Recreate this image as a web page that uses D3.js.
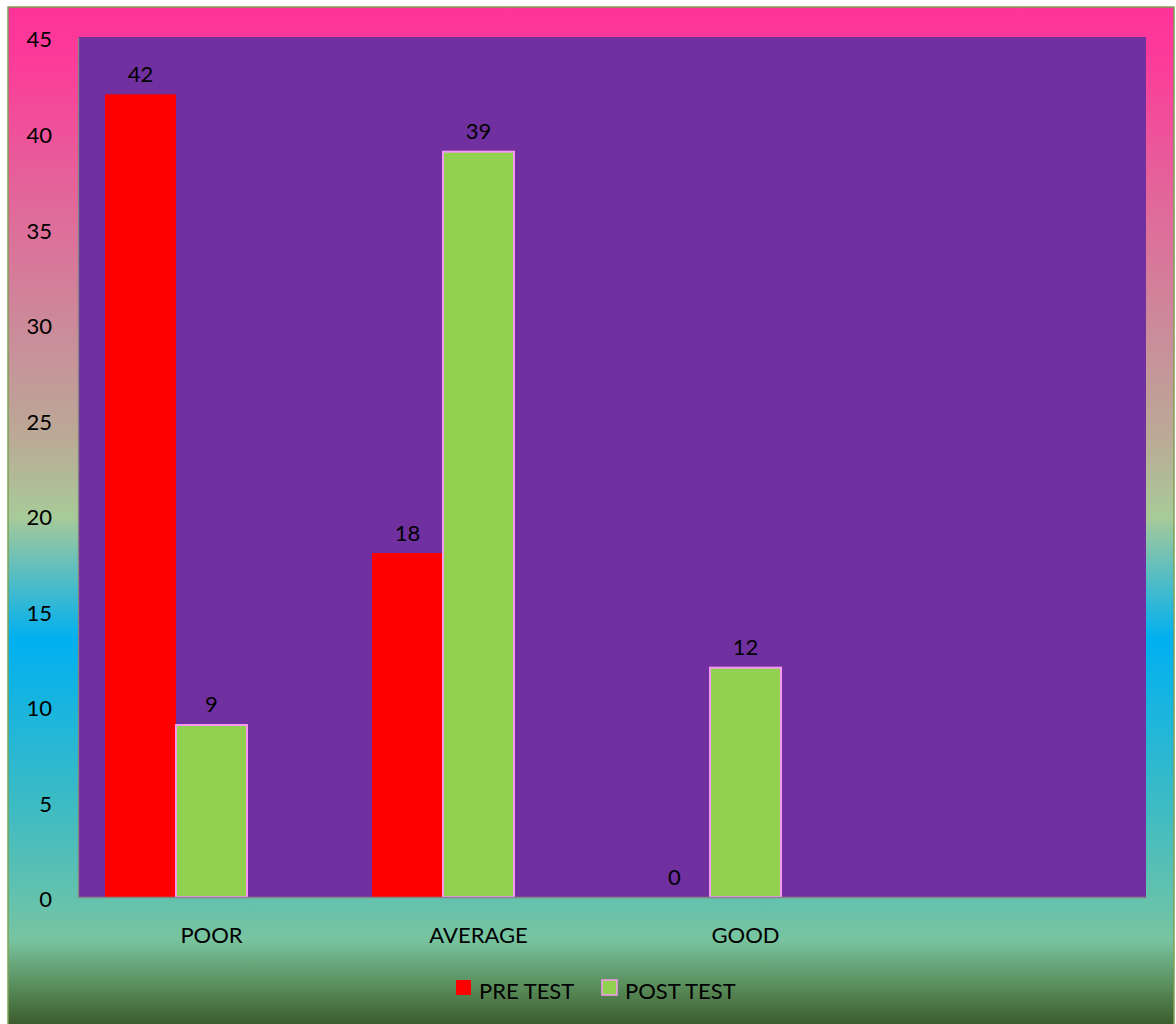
<!DOCTYPE html>
<html>
<head>
<meta charset="utf-8">
<script src="https://cdn.jsdelivr.net/npm/d3@7"></script>
<style>
  body { margin: 0; background: #fff; }
  text { font-family: Lato, "Open Sans", sans-serif; fill: #000; }
</style>
</head>
<body>
<div class="chart"></div>
<script>
// DATA ------------------------------------
const categories = ["POOR", "AVERAGE", "GOOD", ""];
const seriesNames = ["PRE TEST", "POST TEST", ""];
const preTest = [42, 18, 0, null];
const postTest = [9, 39, 12, null];
const yTicks = [0, 5, 10, 15, 20, 25, 30, 35, 40, 45];

// CHART INIT ------------------------------
const totalWidth = 1176;
const totalHeight = 1024;
const frame = { left: 8, top: 7, right: 1174, bottom: 1024 };
const plot = { left: 78, top: 37, right: 1146, bottom: 897 };
const fontSize = 22;

const svg = d3
  .select(".chart")
  .append("svg")
  .attr("width", totalWidth)
  .attr("height", totalHeight);

// background gradient of chart area
const defs = svg.append("defs");
const grad = defs
  .append("linearGradient")
  .attr("id", "bg")
  .attr("x1", 0).attr("y1", 0).attr("x2", 0).attr("y2", 1);

const stops = [
  [0, "#ff3399"],
  [0.05, "#fc3b9a"],
  [0.2, "#e06a9a"],
  [0.33, "#c98f9a"],
  [0.42, "#bba996"],
  [0.5, "#a8ca98"],
  [0.62, "#00b0f0"],
  [0.78, "#3cbbc4"],
  [0.88, "#66c2ac"],
  [0.915, "#78c4a0"],
  [0.96, "#5a8e5c"],
  [1, "#3b5a2a"],
];
grad
  .selectAll("stop")
  .data(stops)
  .enter()
  .append("stop")
  .attr("offset", (d) => d[0])
  .attr("stop-color", (d) => d[1]);

svg
  .append("rect")
  .attr("x", frame.left)
  .attr("y", frame.top)
  .attr("width", frame.right - frame.left)
  .attr("height", frame.bottom - frame.top + 2)
  .attr("fill", "url(#bg)")
  .attr("stroke", "#7fa055")
  .attr("stroke-width", 1.5);

// plot area
svg
  .append("rect")
  .attr("x", plot.left)
  .attr("y", plot.top)
  .attr("width", plot.right - plot.left)
  .attr("height", plot.bottom - plot.top)
  .attr("fill", "#7030a0");

// scales
const x0 = d3
  .scaleBand()
  .domain(categories)
  .range([plot.left, plot.right])
  .padding(0);

const x1 = d3
  .scaleBand()
  .domain(seriesNames)
  .range([0, x0.bandwidth()])
  .paddingInner(0)
  .paddingOuter(0.38);

const yScale = d3.scaleLinear().domain([0, 45]).range([plot.bottom, plot.top]);

// bars
const rows = categories.map((c, i) => ({ cat: c, pre: preTest[i], post: postTest[i] }));

const groups = svg
  .selectAll(".group")
  .data(rows)
  .enter()
  .append("g")
  .attr("class", "group")
  .attr("transform", (d) => `translate(${x0(d.cat)},0)`);

groups
  .filter((d) => d.pre !== null)
  .append("rect")
  .attr("x", x1("PRE TEST"))
  .attr("y", (d) => yScale(d.pre))
  .attr("width", x1.bandwidth())
  .attr("height", (d) => plot.bottom - yScale(d.pre))
  .attr("fill", "#ff0000");

groups
  .filter((d) => d.post !== null)
  .append("rect")
  .attr("x", x1("POST TEST"))
  .attr("y", (d) => yScale(d.post))
  .attr("width", x1.bandwidth())
  .attr("height", (d) => plot.bottom - yScale(d.post))
  .attr("fill", "#92d050")
  .attr("stroke", "#f59af0")
  .attr("stroke-width", 2);

// data labels
groups
  .filter((d) => d.pre !== null)
  .append("text")
  .attr("x", x1("PRE TEST") + x1.bandwidth() / 2)
  .attr("y", (d) => yScale(d.pre) - 12)
  .attr("text-anchor", "middle")
  .attr("font-size", fontSize)
  .text((d) => d.pre);

groups
  .filter((d) => d.post !== null)
  .append("text")
  .attr("x", x1("POST TEST") + x1.bandwidth() / 2)
  .attr("y", (d) => yScale(d.post) - 13)
  .attr("text-anchor", "middle")
  .attr("font-size", fontSize)
  .text((d) => d.post);

// axes
const yAxis = d3.axisLeft(yScale).tickValues(yTicks).tickSize(0).tickPadding(26);
svg
  .append("g")
  .attr("class", "axis y-axis")
  .attr("transform", `translate(${plot.left},0)`)
  .call(yAxis)
  .call((g) => g.select(".domain").attr("stroke", "#868686").attr("stroke-width", 1.3))
  .call((g) =>
    g
      .selectAll("text")
      .attr("font-size", fontSize)
      .attr("font-family", "Lato, sans-serif")
      .attr("fill", "#000")
      .attr("dy", "0.45em")
  );

const xAxis = d3.axisBottom(x0).tickSize(0).tickPadding(30);
svg
  .append("g")
  .attr("class", "axis x-axis")
  .attr("transform", `translate(0,${plot.bottom})`)
  .call(xAxis)
  .call((g) => g.select(".domain").attr("stroke", "#868686").attr("stroke-width", 1.3))
  .call((g) =>
    g
      .selectAll("text")
      .attr("font-size", fontSize)
      .attr("font-family", "Lato, sans-serif")
      .attr("fill", "#000")
  );

// legend
const legendItems = [
  { name: "PRE TEST", x: 456, fill: "#ff0000", stroke: "none" },
  { name: "POST TEST", x: 602, fill: "#92d050", stroke: "#f59af0" },
];
const legend = svg
  .selectAll(".legend")
  .data(legendItems)
  .enter()
  .append("g")
  .attr("class", "legend")
  .attr("transform", (d) => `translate(${d.x},980)`);

legend
  .append("rect")
  .attr("width", 15)
  .attr("height", 15)
  .attr("fill", (d) => d.fill)
  .attr("stroke", (d) => d.stroke)
  .attr("stroke-width", 1.5);

legend
  .append("text")
  .attr("x", 23)
  .attr("y", 19)
  .attr("font-size", fontSize)
  .text((d) => d.name);
</script>
</body>
</html>
